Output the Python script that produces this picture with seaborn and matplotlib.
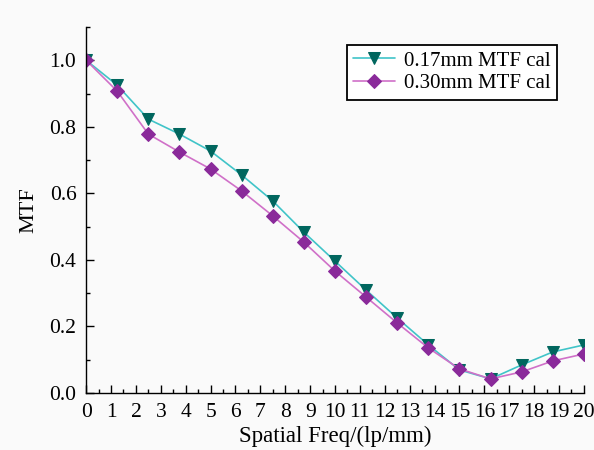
import numpy as np
import pandas as pd
import seaborn as sns
import matplotlib.pyplot as plt
from matplotlib.ticker import MultipleLocator

# Spatial frequency sample points (lp/mm)
freq = [0, 1.25, 2.5, 3.75, 5, 6.25, 7.5, 8.75, 10, 11.25, 12.5, 13.75, 15, 16.25, 17.5, 18.75, 20]
# MTF values
mtf_017 = [1.0, 0.925, 0.823, 0.778, 0.727, 0.655, 0.577, 0.483, 0.396, 0.309, 0.225, 0.144, 0.069, 0.042, 0.084, 0.123, 0.144]
mtf_030 = [1.0, 0.907, 0.778, 0.724, 0.673, 0.607, 0.532, 0.453, 0.366, 0.288, 0.210, 0.135, 0.072, 0.042, 0.063, 0.096, 0.117]
labels = ["0.17mm MTF cal", "0.30mm MTF cal"]

df = pd.DataFrame({"freq": freq, "a": mtf_017, "b": mtf_030})

sns.set_style("ticks")
plt.rcParams["font.family"] = ["Liberation Serif", "DejaVu Serif"]
plt.rcParams["text.color"] = "black"
plt.rcParams["axes.labelcolor"] = "black"

fig = plt.figure(figsize=(5.94, 4.5), dpi=100, facecolor="#fafafa")
ax = fig.add_axes([0.145, 0.127, 0.838, 0.813])
ax.set_facecolor("#fafafa")

sns.lineplot(data=df, x="freq", y="a", ax=ax, color="#40c4c8", lw=1.2,
             marker="v", markersize=8, markerfacecolor="#00665e",
             markeredgecolor="#00665e", label=labels[0])
sns.lineplot(data=df, x="freq", y="b", ax=ax, color="#d070c8", lw=1.2,
             marker="D", markersize=7, markerfacecolor="#8a2a9a",
             markeredgecolor="#8a2a9a", label=labels[1])

ax.set_xlim(0, 20)
ax.set_ylim(0, 1.1)
ax.xaxis.set_major_locator(MultipleLocator(1))
ax.xaxis.set_minor_locator(MultipleLocator(0.5))
ax.yaxis.set_minor_locator(MultipleLocator(0.1))
ax.set_yticks([0, 0.2, 0.4, 0.6, 0.8, 1.0])
ax.set_yticklabels(["0.0", "0.2", "0.4", "0.6", "0.8", "1.0"])
ax.tick_params(which="major", direction="in", length=6, width=1, labelsize=15.5,
               colors="black", labelcolor="black")
ax.tick_params(axis="x", which="major", pad=7)
ax.tick_params(axis="y", which="major", pad=7)
ax.tick_params(which="minor", direction="in", length=3, width=1, colors="black")

for side in ["top", "right"]:
    ax.spines[side].set_visible(False)
for side in ["left", "bottom"]:
    ax.spines[side].set_color("black")
    ax.spines[side].set_linewidth(1)

ax.set_xlabel("Spatial Freq/(lp/mm)", fontsize=16.5, labelpad=3)
ax.set_ylabel("MTF", fontsize=16, labelpad=8)

leg = ax.legend(loc="upper right", bbox_to_anchor=(0.946, 0.951), fontsize=15,
                fancybox=False, edgecolor="black", framealpha=1,
                facecolor="white", handlelength=2.0, borderpad=0.3,
                labelspacing=0.15, handletextpad=0.45, borderaxespad=0)
leg.get_frame().set_linewidth(1.3)

fig.savefig("out.png", dpi=100, facecolor=fig.get_facecolor())
